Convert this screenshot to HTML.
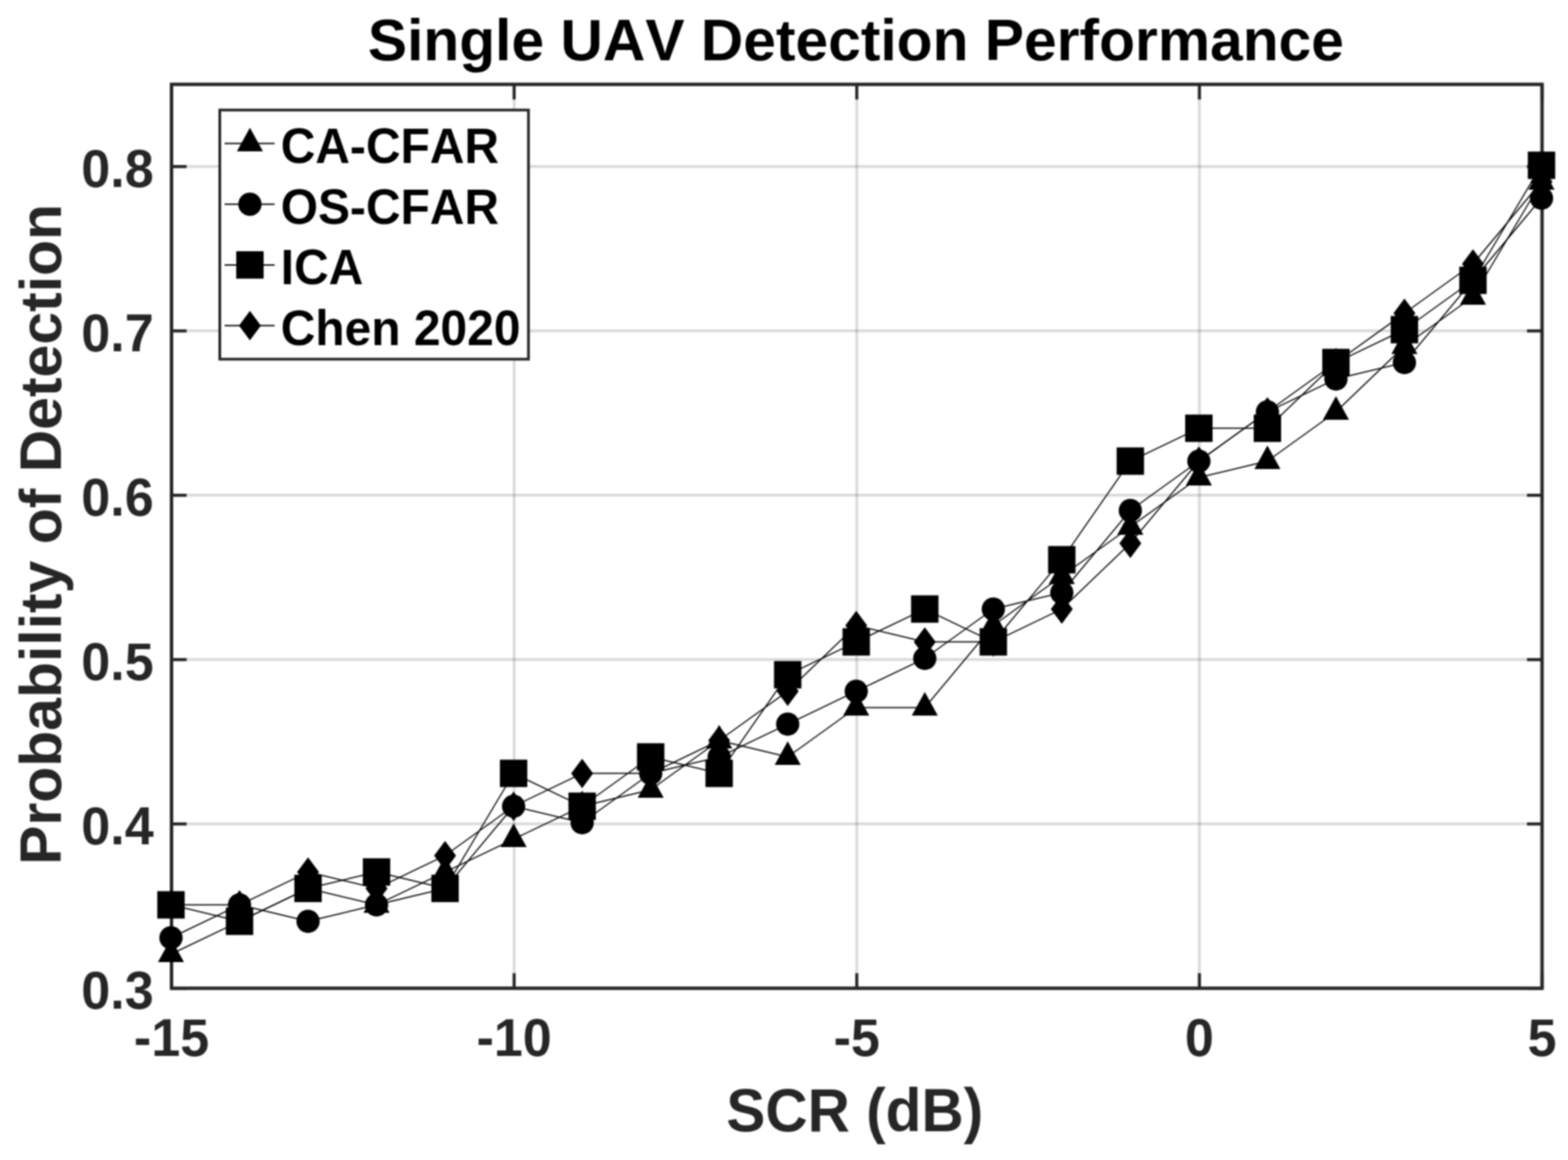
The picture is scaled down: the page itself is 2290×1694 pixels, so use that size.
<!DOCTYPE html>
<html><head><meta charset="utf-8"><title>Single UAV Detection Performance</title>
<style>html,body{margin:0;padding:0;background:#fff;}body{width:2290px;height:1694px;overflow:hidden;}svg{display:block;filter:blur(1.1px);}text{font-kerning:none;}</style>
</head><body>
<svg width="2290" height="1694" viewBox="0 0 2290 1694">
<rect width="2290" height="1694" fill="#fff"/>
<g stroke="#262626" stroke-opacity="0.165" stroke-width="4.2" fill="none"><line x1="750.9" y1="123.2" x2="750.9" y2="1443.2"/><line x1="1251.3" y1="123.2" x2="1251.3" y2="1443.2"/><line x1="1751.7" y1="123.2" x2="1751.7" y2="1443.2"/><line x1="250.5" y1="1203.2" x2="2252.1" y2="1203.2"/><line x1="250.5" y1="963.2" x2="2252.1" y2="963.2"/><line x1="250.5" y1="723.2" x2="2252.1" y2="723.2"/><line x1="250.5" y1="483.2" x2="2252.1" y2="483.2"/><line x1="250.5" y1="243.2" x2="2252.1" y2="243.2"/></g>
<rect x="250.5" y="123.2" width="2001.6" height="1320.0" fill="none" stroke="#262626" stroke-width="5"/>
<path d="M250.5 1443.2v-22.0M250.5 123.2v22.0M750.9 1443.2v-22.0M750.9 123.2v22.0M1251.3 1443.2v-22.0M1251.3 123.2v22.0M1751.7 1443.2v-22.0M1751.7 123.2v22.0M2252.1 1443.2v-22.0M2252.1 123.2v22.0M250.5 1443.2h22.0M2252.1 1443.2h-22.0M250.5 1203.2h22.0M2252.1 1203.2h-22.0M250.5 963.2h22.0M2252.1 963.2h-22.0M250.5 723.2h22.0M2252.1 723.2h-22.0M250.5 483.2h22.0M2252.1 483.2h-22.0M250.5 243.2h22.0M2252.1 243.2h-22.0" stroke="#262626" stroke-width="4.5" fill="none"/>
<g transform="translate(-0.8 -1.8)"><g stroke="#000" stroke-width="1.7" fill="none" stroke-linejoin="round"><polyline points="250.5,1395.2 350.6,1347.2 450.7,1299.2 550.7,1323.2 650.8,1275.2 750.9,1227.2 851.0,1179.2 951.1,1155.2 1051.1,1083.2 1151.2,1107.2 1251.3,1035.2 1351.4,1035.2 1451.5,915.2 1551.5,843.2 1651.6,771.2 1751.7,699.2 1851.8,675.2 1951.9,603.2 2051.9,507.2 2152.0,435.2 2252.1,267.2"/><polyline points="250.5,1371.2 350.6,1323.2 450.7,1347.2 550.7,1323.2 650.8,1299.2 750.9,1179.2 851.0,1203.2 951.1,1131.2 1051.1,1107.2 1151.2,1059.2 1251.3,1011.2 1351.4,963.2 1451.5,891.2 1551.5,867.2 1651.6,747.2 1751.7,675.2 1851.8,603.2 1951.9,555.2 2051.9,531.2 2152.0,411.2 2252.1,291.2"/><polyline points="250.5,1323.2 350.6,1347.2 450.7,1299.2 550.7,1275.2 650.8,1299.2 750.9,1131.2 851.0,1179.2 951.1,1107.2 1051.1,1131.2 1151.2,987.2 1251.3,939.2 1351.4,891.2 1451.5,939.2 1551.5,819.2 1651.6,675.2 1751.7,627.2 1851.8,627.2 1951.9,531.2 2051.9,483.2 2152.0,411.2 2252.1,243.2"/><polyline points="250.5,1323.2 350.6,1323.2 450.7,1275.2 550.7,1299.2 650.8,1251.2 750.9,1179.2 851.0,1131.2 951.1,1131.2 1051.1,1083.2 1151.2,1011.2 1251.3,915.2 1351.4,939.2 1451.5,939.2 1551.5,891.2 1651.6,795.2 1751.7,675.2 1851.8,603.2 1951.9,531.2 2051.9,459.2 2152.0,387.2 2252.1,267.2"/></g>
<g fill="#000"><path d="M250.5 1372.2L231.5 1406.7L269.5 1406.7Z"/><path d="M350.6 1324.2L331.6 1358.7L369.6 1358.7Z"/><path d="M450.7 1276.2L431.7 1310.7L469.7 1310.7Z"/><path d="M550.7 1300.2L531.7 1334.7L569.7 1334.7Z"/><path d="M650.8 1252.2L631.8 1286.7L669.8 1286.7Z"/><path d="M750.9 1204.2L731.9 1238.7L769.9 1238.7Z"/><path d="M851.0 1156.2L832.0 1190.7L870.0 1190.7Z"/><path d="M951.1 1132.2L932.1 1166.7L970.1 1166.7Z"/><path d="M1051.1 1060.2L1032.1 1094.7L1070.1 1094.7Z"/><path d="M1151.2 1084.2L1132.2 1118.7L1170.2 1118.7Z"/><path d="M1251.3 1012.2L1232.3 1046.7L1270.3 1046.7Z"/><path d="M1351.4 1012.2L1332.4 1046.7L1370.4 1046.7Z"/><path d="M1451.5 892.2L1432.5 926.7L1470.5 926.7Z"/><path d="M1551.5 820.2L1532.5 854.7L1570.5 854.7Z"/><path d="M1651.6 748.2L1632.6 782.7L1670.6 782.7Z"/><path d="M1751.7 676.2L1732.7 710.7L1770.7 710.7Z"/><path d="M1851.8 652.2L1832.8 686.7L1870.8 686.7Z"/><path d="M1951.9 580.2L1932.9 614.7L1970.9 614.7Z"/><path d="M2051.9 484.2L2032.9 518.7L2070.9 518.7Z"/><path d="M2152.0 412.2L2133.0 446.7L2171.0 446.7Z"/><path d="M2252.1 244.2L2233.1 278.7L2271.1 278.7Z"/><circle cx="250.5" cy="1371.2" r="17.0"/><circle cx="350.6" cy="1323.2" r="17.0"/><circle cx="450.7" cy="1347.2" r="17.0"/><circle cx="550.7" cy="1323.2" r="17.0"/><circle cx="650.8" cy="1299.2" r="17.0"/><circle cx="750.9" cy="1179.2" r="17.0"/><circle cx="851.0" cy="1203.2" r="17.0"/><circle cx="951.1" cy="1131.2" r="17.0"/><circle cx="1051.1" cy="1107.2" r="17.0"/><circle cx="1151.2" cy="1059.2" r="17.0"/><circle cx="1251.3" cy="1011.2" r="17.0"/><circle cx="1351.4" cy="963.2" r="17.0"/><circle cx="1451.5" cy="891.2" r="17.0"/><circle cx="1551.5" cy="867.2" r="17.0"/><circle cx="1651.6" cy="747.2" r="17.0"/><circle cx="1751.7" cy="675.2" r="17.0"/><circle cx="1851.8" cy="603.2" r="17.0"/><circle cx="1951.9" cy="555.2" r="17.0"/><circle cx="2051.9" cy="531.2" r="17.0"/><circle cx="2152.0" cy="411.2" r="17.0"/><circle cx="2252.1" cy="291.2" r="17.0"/><rect x="230.5" y="1303.2" width="40.0" height="40.0"/><rect x="330.6" y="1327.2" width="40.0" height="40.0"/><rect x="430.7" y="1279.2" width="40.0" height="40.0"/><rect x="530.7" y="1255.2" width="40.0" height="40.0"/><rect x="630.8" y="1279.2" width="40.0" height="40.0"/><rect x="730.9" y="1111.2" width="40.0" height="40.0"/><rect x="831.0" y="1159.2" width="40.0" height="40.0"/><rect x="931.1" y="1087.2" width="40.0" height="40.0"/><rect x="1031.1" y="1111.2" width="40.0" height="40.0"/><rect x="1131.2" y="967.2" width="40.0" height="40.0"/><rect x="1231.3" y="919.2" width="40.0" height="40.0"/><rect x="1331.4" y="871.2" width="40.0" height="40.0"/><rect x="1431.5" y="919.2" width="40.0" height="40.0"/><rect x="1531.5" y="799.2" width="40.0" height="40.0"/><rect x="1631.6" y="655.2" width="40.0" height="40.0"/><rect x="1731.7" y="607.2" width="40.0" height="40.0"/><rect x="1831.8" y="607.2" width="40.0" height="40.0"/><rect x="1931.9" y="511.2" width="40.0" height="40.0"/><rect x="2031.9" y="463.2" width="40.0" height="40.0"/><rect x="2132.0" y="391.2" width="40.0" height="40.0"/><rect x="2232.1" y="223.2" width="40.0" height="40.0"/><path d="M250.5 1301.7L266.5 1323.2L250.5 1344.7L234.5 1323.2Z"/><path d="M350.6 1301.7L366.6 1323.2L350.6 1344.7L334.6 1323.2Z"/><path d="M450.7 1253.7L466.7 1275.2L450.7 1296.7L434.7 1275.2Z"/><path d="M550.7 1277.7L566.7 1299.2L550.7 1320.7L534.7 1299.2Z"/><path d="M650.8 1229.7L666.8 1251.2L650.8 1272.7L634.8 1251.2Z"/><path d="M750.9 1157.7L766.9 1179.2L750.9 1200.7L734.9 1179.2Z"/><path d="M851.0 1109.7L867.0 1131.2L851.0 1152.7L835.0 1131.2Z"/><path d="M951.1 1109.7L967.1 1131.2L951.1 1152.7L935.1 1131.2Z"/><path d="M1051.1 1061.7L1067.1 1083.2L1051.1 1104.7L1035.1 1083.2Z"/><path d="M1151.2 989.7L1167.2 1011.2L1151.2 1032.7L1135.2 1011.2Z"/><path d="M1251.3 893.7L1267.3 915.2L1251.3 936.7L1235.3 915.2Z"/><path d="M1351.4 917.7L1367.4 939.2L1351.4 960.7L1335.4 939.2Z"/><path d="M1451.5 917.7L1467.5 939.2L1451.5 960.7L1435.5 939.2Z"/><path d="M1551.5 869.7L1567.5 891.2L1551.5 912.7L1535.5 891.2Z"/><path d="M1651.6 773.7L1667.6 795.2L1651.6 816.7L1635.6 795.2Z"/><path d="M1751.7 653.7L1767.7 675.2L1751.7 696.7L1735.7 675.2Z"/><path d="M1851.8 581.7L1867.8 603.2L1851.8 624.7L1835.8 603.2Z"/><path d="M1951.9 509.7L1967.9 531.2L1951.9 552.7L1935.9 531.2Z"/><path d="M2051.9 437.7L2067.9 459.2L2051.9 480.7L2035.9 459.2Z"/><path d="M2152.0 365.7L2168.0 387.2L2152.0 408.7L2136.0 387.2Z"/><path d="M2252.1 245.7L2268.1 267.2L2252.1 288.7L2236.1 267.2Z"/></g></g>
<g font-family="'Liberation Sans', Arial, Helvetica, sans-serif" font-weight="bold" fill="#262626" font-size="76"><text transform="translate(224.5 1472.7) scale(1 1.035)" text-anchor="end">0.3</text><text transform="translate(224.5 1232.7) scale(1 1.035)" text-anchor="end">0.4</text><text transform="translate(224.5 992.7) scale(1 1.035)" text-anchor="end">0.5</text><text transform="translate(224.5 752.7) scale(1 1.035)" text-anchor="end">0.6</text><text transform="translate(224.5 512.7) scale(1 1.035)" text-anchor="end">0.7</text><text transform="translate(224.5 272.7) scale(1 1.035)" text-anchor="end">0.8</text><text transform="translate(250.5 1542.0) scale(1 1.035)" text-anchor="middle">-15</text><text transform="translate(750.9 1542.0) scale(1 1.035)" text-anchor="middle">-10</text><text transform="translate(1251.3 1542.0) scale(1 1.035)" text-anchor="middle">-5</text><text transform="translate(1751.7 1542.0) scale(1 1.035)" text-anchor="middle">0</text><text transform="translate(2252.1 1542.0) scale(1 1.035)" text-anchor="middle">5</text></g>
<g font-family="'Liberation Sans', Arial, Helvetica, sans-serif" font-weight="bold" font-size="85.8" fill="#000"><text transform="translate(1250.0 88.0) scale(1 1.0)" text-anchor="middle">Single UAV Detection Performance</text></g>
<g font-family="'Liberation Sans', Arial, Helvetica, sans-serif" font-weight="bold" font-size="85.5" fill="#262626"><text transform="translate(1248.3 1652.0) scale(1 1.035)" text-anchor="middle">SCR (dB)</text></g>
<text transform="translate(89 780.5) rotate(-90)" text-anchor="middle" font-family="'Liberation Sans', Arial, Helvetica, sans-serif" font-weight="bold" font-size="86" fill="#262626">Probability of Detection</text>
<g font-family="'Liberation Sans', Arial, Helvetica, sans-serif" font-weight="bold" font-size="70" fill="#000"><rect x="321.0" y="160.7" width="450.8" height="363.8" fill="#fff" stroke="#262626" stroke-width="4"/><line x1="328" y1="209.6" x2="401" y2="209.6" stroke="#000" stroke-width="2"/><g fill="#000"><path d="M365.0 186.6L346.0 221.1L384.0 221.1Z"/></g><text transform="translate(410.0 238.1) scale(1 1.02)">CA-CFAR</text><line x1="328" y1="298.3" x2="401" y2="298.3" stroke="#000" stroke-width="2"/><g fill="#000"><circle cx="365.0" cy="298.3" r="17.0"/></g><text transform="translate(410.0 326.8) scale(1 1.02)">OS-CFAR</text><line x1="328" y1="386.9" x2="401" y2="386.9" stroke="#000" stroke-width="2"/><g fill="#000"><rect x="345.0" y="366.9" width="40.0" height="40.0"/></g><text transform="translate(410.0 415.4) scale(1 1.02)">ICA</text><line x1="328" y1="475.6" x2="401" y2="475.6" stroke="#000" stroke-width="2"/><g fill="#000"><path d="M365.0 454.1L381.0 475.6L365.0 497.1L349.0 475.6Z"/></g><text transform="translate(410.0 504.1) scale(1 1.02)">Chen 2020</text></g>
</svg>
</body></html>
